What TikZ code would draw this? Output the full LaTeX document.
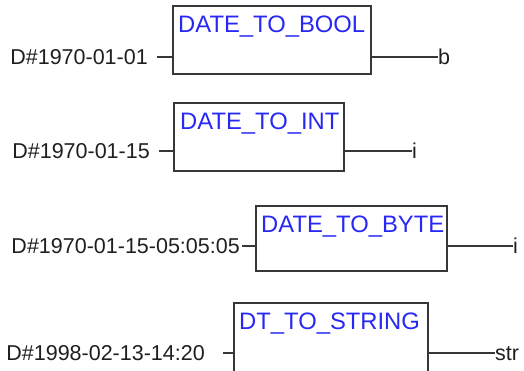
\documentclass[tikz,border=0pt]{standalone}
\usepackage{fontspec}
\setmainfont{Liberation Sans}
\definecolor{fbblue}{RGB}{40,40,245}
\definecolor{fbline}{RGB}{55,55,55}
\begin{document}
\begin{tikzpicture}[x=1pt,y=-1pt,
  fbox/.style={draw=fbline,line width=2pt,fill=white,anchor=north west,inner sep=0pt},
  fbtitle/.style={anchor=north west,inner sep=0pt,text=fbblue,font=\fontsize{23.8}{25}\selectfont,text height=17pt,text depth=0pt},
  lbl/.style={inner sep=0pt,text=black!88,font=\fontsize{21.5}{23}\selectfont,text height=15pt,text depth=0pt},
  wire/.style={draw=fbline,line width=1.6pt}]
\useasboundingbox (0,0) rectangle (524,370);
\clip (0,0) rectangle (524,370);
% boxes
\node[fbox,minimum width=198pt,minimum height=68pt] (b1) at (172,5) {};
\node[fbox,minimum width=170pt,minimum height=68pt] (b2) at (173,102) {};
\node[fbox,minimum width=191pt,minimum height=65pt] (b3) at (255,205) {};
\node[fbox,minimum width=194pt,minimum height=75pt] (b4) at (233,302) {};
% titles
\node[fbtitle] (t1) at ([shift={(6,10)}]b1.north west) {DATE\_TO\_BOOL};
\node[fbtitle] (t2) at ([shift={(7,10)}]b2.north west) {DATE\_TO\_INT};
\node[fbtitle] (t3) at ([shift={(6,10)}]b3.north west) {DATE\_TO\_BYTE};
\node[fbtitle] (t4) at ([shift={(6,10)}]b4.north west) {DT\_TO\_STRING};
% input labels
\node[lbl,anchor=east] (i1) at (148,57) {D\#1970-01-01};
\node[lbl,anchor=east] (i2) at (150,151) {D\#1970-01-15};
\node[lbl,anchor=east] (i3) at (240,246) {D\#1970-01-15-05:05:05};
\node[lbl,anchor=east] (i4) at (205,353) {D\#1998-02-13-14:20};
\coordinate (s1) at (157,57);
\coordinate (s2) at (159,151);
\coordinate (s3) at (242,246);
\coordinate (s4) at (223,353);
\draw[wire] (s1) -- (s1 -| b1.west);
\draw[wire] (s2) -- (s2 -| b2.west);
\draw[wire] (s3) -- (s3 -| b3.west);
\draw[wire] (s4) -- (s4 -| b4.west);
% outputs
\node[lbl,anchor=west] (o1) at (438,57) {b};
\node[lbl,anchor=west] (o2) at (412,151) {i};
\node[lbl,anchor=west] (o3) at (513,246) {i};
\node[lbl,anchor=west] (o4) at (495,353) {str};
\draw[wire] (o1.west -| b1.east) -- (o1.west);
\draw[wire] (o2.west -| b2.east) -- (o2.west);
\draw[wire] (o3.west -| b3.east) -- (o3.west);
\draw[wire] (o4.west -| b4.east) -- (o4.west);
\end{tikzpicture}
\end{document}
